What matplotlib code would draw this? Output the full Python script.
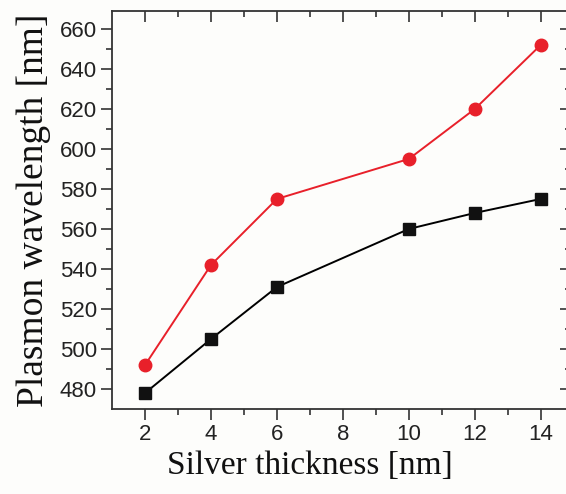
import matplotlib.pyplot as plt
import numpy as np

# silver thickness in nm
thickness = [2, 4, 6, 10, 12, 14]
# plasmon wavelengths in nm
black_wl = [478, 505, 531, 560, 568, 575]
red_wl = [492, 542, 575, 595, 620, 652]

fig = plt.figure(figsize=(5.66, 4.94), dpi=100)
fig.patch.set_facecolor('#fdfdfb')
ax = fig.add_axes([0.198, 0.172, 0.81, 0.806])
ax.set_facecolor('#fdfdfb')

ax.plot(thickness, black_wl, marker='s', color='black', markerfacecolor='#111111',
        markeredgecolor='#111111', markersize=8.5, linewidth=1.4)
ax.plot(thickness, red_wl, marker='o', color='#e8202a', markersize=9, linewidth=1.4)

ax.set_xlim(1, 14.9)
ax.set_ylim(470, 669)
ax.set_xticks([2, 4, 6, 8, 10, 12, 14])
ax.set_xticks(np.arange(3, 15, 2), minor=True)
ax.set_yticks(np.arange(480, 661, 20))
ax.set_yticks(np.arange(490, 670, 20), minor=True)

for s in ax.spines.values():
    s.set_color('#333333')
    s.set_linewidth(1.3)

ax.tick_params(which='both', direction='out', color='#333333', width=1.2,
               labelsize=16, labelcolor='#222222', pad=3,
               top=True, right=True)
ax.tick_params(which='major', length=8)
ax.tick_params(which='minor', length=4.5)
# top/right ticks point inward like in origin
for t in ax.xaxis.get_major_ticks() + ax.xaxis.get_minor_ticks():
    t.tick2line.set_marker(3)
for t in ax.yaxis.get_major_ticks() + ax.yaxis.get_minor_ticks():
    t.tick2line.set_marker(0)

for lab in ax.get_xticklabels() + ax.get_yticklabels():
    lab.set_family('Liberation Sans')

ax.set_xlabel('Silver thickness [nm]', family='Liberation Serif', fontsize=24,
              color='#111111')
ax.xaxis.set_label_coords(0.432, -0.105)
ax.set_ylabel('Plasmon wavelength [nm]', family='Liberation Serif', fontsize=27,
              color='#111111', labelpad=6)

plt.savefig('out.png', dpi=100, facecolor=fig.get_facecolor())
